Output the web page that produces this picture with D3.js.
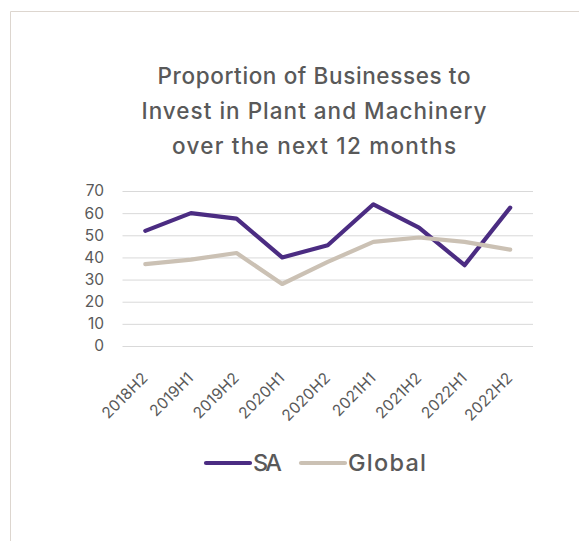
<!DOCTYPE html>
<html>
<head>
<meta charset="utf-8">
<script src="https://cdn.jsdelivr.net/npm/d3@7"></script>
<style>
  html, body { margin: 0; padding: 0; background: #fff; }
  svg { display: block; }
</style>
</head>
<body>
<svg id="chart" width="579" height="541"></svg>
<script>
// Half-year survey periods
const periods = ["2018H2", "2019H1", "2019H2", "2020H1", "2020H2", "2021H1", "2021H2", "2022H1", "2022H2"];
// Share of businesses planning plant & machinery investment (%)
const saValues = [52, 60, 57.5, 40, 45.5, 64, 53.5, 36.5, 62.5];
const globalValues = [37, 39, 42, 28, 38, 47, 49, 47, 43.5];
const yTicks = [0, 10, 20, 30, 40, 50, 60, 70];
const titleLines = ["Proportion of Businesses to", "Invest in Plant and Machinery", "over the next 12 months"];

const series = [
  { name: "SA", values: saValues, color: "#4b2c82" },
  { name: "Global", values: globalValues, color: "#cbc1b4" }
];

const svg = d3.select("#chart");
const font = "Inter, 'DejaVu Sans', sans-serif";
const textColor = "#595959";

// outer frame (open to the right and bottom)
svg.append("path")
  .attr("d", "M10.5,541 V11.5 H579")
  .attr("fill", "none")
  .attr("stroke", "#ddd6cf")
  .attr("stroke-width", 1);

// title, each line fitted to its set width
const titleWidths = [313, 345, 284];
svg.append("g").selectAll("text").data(titleLines).join("text")
  .attr("x", 314)
  .attr("y", (d, i) => 84 + i * 35)
  .attr("text-anchor", "middle")
  .attr("font-family", font)
  .attr("font-size", 22.5)
  .attr("font-weight", 500)
  .attr("fill", textColor)
  .attr("textLength", (d, i) => titleWidths[i])
  .attr("lengthAdjust", "spacing")
  .text(d => d);

const plot = { left: 122.5, right: 533, top: 191, bottom: 346 };

const x = d3.scalePoint()
  .domain(periods)
  .range([plot.left, plot.right])
  .padding(0.5);

const y = d3.scaleLinear()
  .domain([0, 70])
  .range([plot.bottom, plot.top]);

// horizontal gridlines
svg.append("g")
  .attr("transform", `translate(${plot.left},0)`)
  .call(d3.axisLeft(y).tickValues(yTicks).tickSize(-(plot.right - plot.left)).tickFormat(""))
  .call(g => g.select(".domain").remove())
  .call(g => g.selectAll(".tick line").attr("stroke", "#d9d9d9").attr("stroke-width", 1));

// y-axis labels
svg.append("g")
  .attr("transform", `translate(104,0)`)
  .call(d3.axisLeft(y).tickValues(yTicks).tickSize(0).tickPadding(0))
  .call(g => g.select(".domain").remove())
  .call(g => g.selectAll("text")
    .attr("font-family", font)
    .attr("font-size", 15.5)
    .attr("fill", textColor));

// x-axis labels, rotated
svg.append("g")
  .attr("transform", `translate(0,${plot.bottom})`)
  .call(d3.axisBottom(x).tickSize(0).tickPadding(0))
  .call(g => g.select(".domain").remove())
  .call(g => g.selectAll("text")
    .attr("font-family", font)
    .attr("font-size", 15.5)
    .attr("letter-spacing", 0.2)
    .attr("fill", textColor)
    .attr("text-anchor", "end")
    .attr("dy", null)
    .attr("y", 0)
    .attr("transform", "translate(3,33) rotate(-45)"));

// series lines
const line = d3.line()
  .x((d, i) => x(periods[i]))
  .y(d => y(d));

svg.append("g").selectAll("path").data(series).join("path")
  .attr("d", d => line(d.values))
  .attr("fill", "none")
  .attr("stroke", d => d.color)
  .attr("stroke-width", 4.2)
  .attr("stroke-linejoin", "round")
  .attr("stroke-linecap", "round");

// legend
const legendItems = [
  { s: series[0], x: 206, w: 29 },
  { s: series[1], x: 301, w: 78 }
];
const lg = svg.append("g").selectAll("g").data(legendItems).join("g")
  .attr("transform", d => `translate(${d.x},463)`);
lg.append("line")
  .attr("x1", 0).attr("x2", 44)
  .attr("stroke", d => d.s.color)
  .attr("stroke-width", 4.2)
  .attr("stroke-linecap", "round");
lg.append("text")
  .attr("x", 47)
  .attr("dy", "0.36em")
  .attr("font-family", font)
  .attr("font-size", 23.5)
  .attr("font-weight", 500)
  .attr("fill", textColor)
  .attr("textLength", d => d.w)
  .attr("lengthAdjust", "spacing")
  .text(d => d.s.name);
</script>
</body>
</html>
